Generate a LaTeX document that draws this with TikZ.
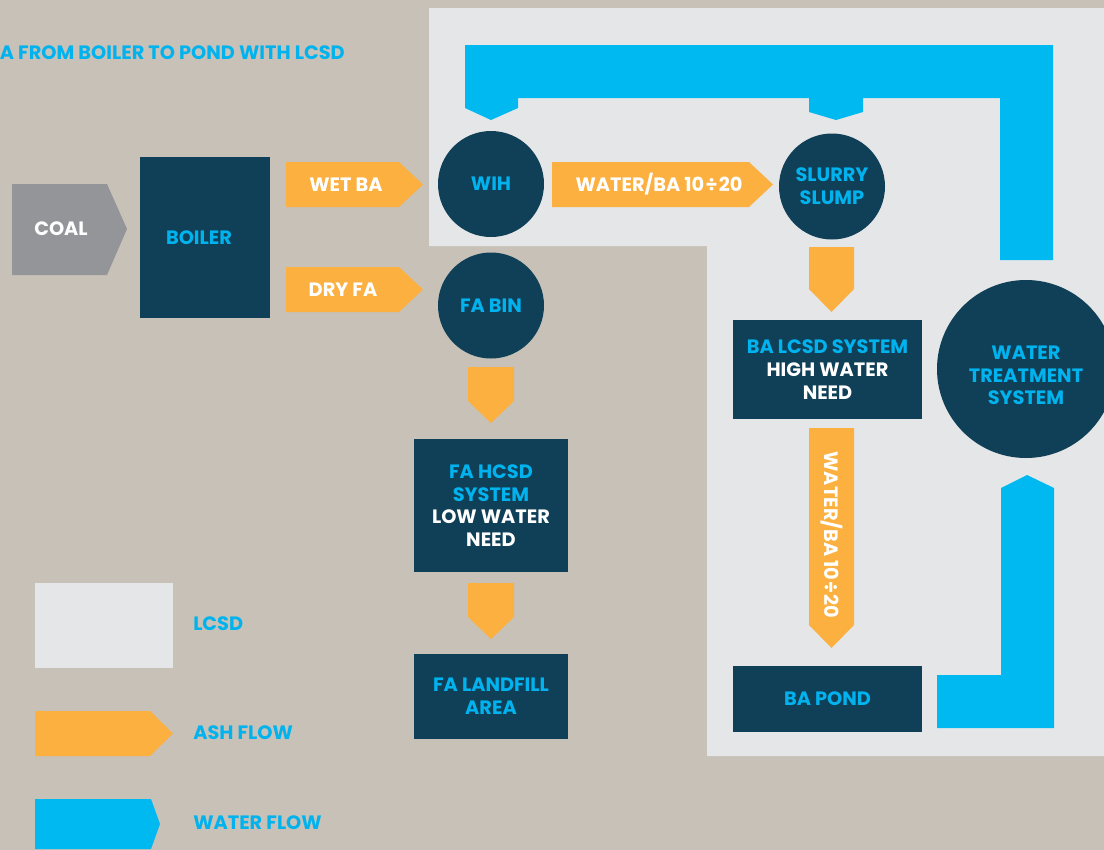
\documentclass[tikz,border=0pt]{standalone}
\usepackage{fontspec}
\setmainfont{Poppins}
\definecolor{bgc}{HTML}{C8C1B7}
\definecolor{lcsdc}{HTML}{E5E6E8}
\definecolor{navyc}{HTML}{0F4058}
\definecolor{cyanc}{HTML}{00B3EE}
\definecolor{bluec}{HTML}{00B9F0}
\definecolor{orangec}{HTML}{FBB040}
\definecolor{coalc}{HTML}{939598}
\newcommand{\lblfont}{\bfseries\fontsize{14.5}{17}\selectfont}
\tikzset{
  lbl/.style={font=\lblfont, align=center, inner sep=0pt},
  wlbl/.style={lbl, text=white},
  clbl/.style={lbl, text=cyanc},
  navybox/.style={fill=navyc, draw=none, inner sep=0pt, font=\lblfont, align=center, text=white},
  navycirc/.style={circle, fill=navyc, draw=none, inner sep=0pt, font=\lblfont, align=center, text=cyanc},
  ashfill/.style={fill=orangec},
  waterfill/.style={fill=bluec}
}
\begin{document}
\begin{tikzpicture}[x=0.75pt,y=-0.75pt]
\useasboundingbox (0,0) rectangle (1104,850);
\clip (0,0) rectangle (1104,850);
\fill[bgc] (0,0) rectangle (1104,850);
% LCSD region
\fill[lcsdc] (429,8) -- (1104,8) -- (1104,756) -- (707,756) -- (707,246) -- (429,246) -- cycle;

% title
\node[clbl, anchor=east] (title) at (345,53) {A FROM BOILER TO POND WITH LCSD};

% top water flow
\fill[waterfill] (465,45) -- (1053,45) -- (1053,260) -- (1000,260) -- (1000,98) -- (863,98) -- (863,112) -- (836,120) -- (809,112) -- (809,98) -- (518,98) -- (518,108) -- (491,120) -- (465,108) -- cycle;
% bottom water flow
\fill[waterfill] (937,675) -- (1001,675) -- (1001,488) -- (1027,475) -- (1054,488) -- (1054,728) -- (937,728) -- cycle;

% coal
\fill[coalc] (12,184) -- (107,184) -- (127,229) -- (107,275) -- (12,275) -- cycle;
\node[wlbl] (coal) at (61,229) {COAL};

% boiler
\node[navybox, text=cyanc, minimum width={130*0.75pt}, minimum height={161*0.75pt}] (boiler) at (205,237.5) {};
\node[clbl] (boilert) at (199,238) {BOILER};

% ash arrows
\fill[ashfill] (286,162) -- (399,162) -- (423,184.5) -- (399,207) -- (286,207) -- cycle;
\node[wlbl] (wetba) at (346,184.5) {WET BA};
\fill[ashfill] (286,267) -- (399,267) -- (423,289.5) -- (399,312) -- (286,312) -- cycle;
\node[wlbl] (dryfa) at (343,289.5) {DRY FA};
\fill[ashfill] (552,162) -- (749,162) -- (773,184.5) -- (749,207) -- (552,207) -- cycle;
\node[wlbl] (wba1) at (659,184.5) {WATER/BA 10\kern1pt÷\kern1pt20};

% circles
\node[navycirc, minimum size={106*0.75pt}] (wih) at (491,184) {WIH};
\node[navycirc, minimum size={106*0.75pt}] (fabin) at (491,305.5) {FA BIN};
\node[navycirc, minimum size={106*0.75pt}] (slurry) at (832,186.5) {SLURRY\\SLUMP};
\node[navycirc, minimum size={178*0.75pt}] (wts) at (1026,369) {};
\node[clbl] (wtst) at (1026,375.5) {WATER\\TREATMENT\\SYSTEM};

% fly ash column
\fill[ashfill] (468,367) -- (514,367) -- (514,401) -- (491,423) -- (468,401) -- cycle;
\node[navybox, minimum width={154*0.75pt}, minimum height={133*0.75pt}] (fahcsd) at (491,505.5)
  {\textcolor{cyanc}{FA HCSD}\\\textcolor{cyanc}{SYSTEM}\\LOW WATER\\NEED};
\fill[ashfill] (468,583) -- (514,583) -- (514,617) -- (491,639) -- (468,617) -- cycle;
\node[navybox, text=cyanc, minimum width={154*0.75pt}, minimum height={85*0.75pt}] (landfill) at (491,696.5)
  {FA LANDFILL\\AREA};

% bottom ash column
\fill[ashfill] (809,247) -- (854,247) -- (854,289) -- (831.5,312) -- (809,289) -- cycle;
\node[navybox, minimum width={189*0.75pt}, minimum height={99*0.75pt}] (balcsd) at (827.5,369.5)
  {\textcolor{cyanc}{BA LCSD SYSTEM}\\HIGH WATER\\NEED};
\fill[ashfill] (809,428) -- (854,428) -- (854,625) -- (831.5,648) -- (809,625) -- cycle;
\node[wlbl, rotate=-90] (wba2) at (832,535) {WATER/BA 10\kern1pt÷\kern1pt20};
\node[navybox, text=cyanc, minimum width={189*0.75pt}, minimum height={66*0.75pt}] (bapond) at (827.5,699)
  {BA POND};

% legend
\fill[lcsdc] (35,583) rectangle (173,668);
\node[clbl, anchor=west] (leg1) at (193,623.5) {LCSD};
\fill[ashfill] (35,711) -- (150,711) -- (173,733.5) -- (150,756) -- (35,756) -- cycle;
\node[clbl, anchor=west] (leg2) at (193,733) {ASH FLOW};
\fill[waterfill] (35,799) -- (151,799) -- (160,824) -- (151,849) -- (35,849) -- cycle;
\node[clbl, anchor=west] (leg3) at (193,823) {WATER FLOW};
\end{tikzpicture}
\end{document}
